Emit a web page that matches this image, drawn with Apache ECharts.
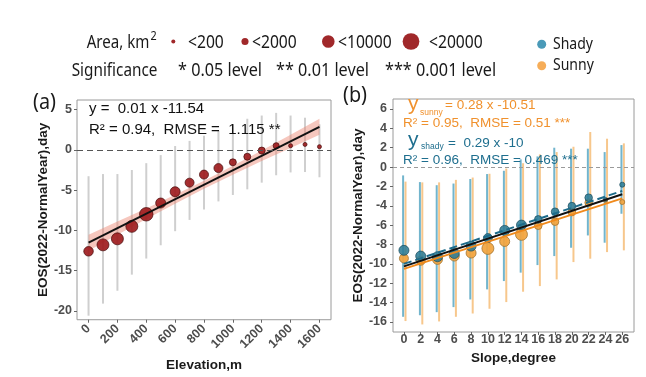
<!DOCTYPE html>
<html>
<head>
<meta charset="utf-8">
<script src="https://cdn.jsdelivr.net/npm/echarts@6/dist/echarts.min.js"></script>
<style>
html, body { margin: 0; padding: 0; background: #fff; }
#chart { width: 646px; height: 377px; }
</style>
</head>
<body>
<div id="chart"></div>
<script>
// (a) EOS anomaly by elevation bin
const elevation = [0, 100, 200, 300, 400, 500, 600, 700, 800, 900, 1000, 1100, 1200, 1300, 1400, 1500, 1600]
const eosElev = [-12.6, -11.8, -11.05, -9.5, -8.0, -6.6, -5.2, -4.07, -3.07, -2.26, -1.54, -0.85, -0.08, 0.52, 0.52, 0.68, 0.4]
const lowElev = [-20.6, -19.1, -17.5, -15.5, -13.5, -11.85, -10.1, -8.7, -7.4, -6.4, -5.6, -4.9, -4.07, -3.15, -2.8, -2.75, -3.4]
const highElev = [-3.27, -3.0, -3.0, -2.5, -1.65, -0.65, 0.48, 1.12, 1.77, 2.37, 3.18, 3.87, 4.27, 4.6, 4.27, 4.0, 3.18]
const areaElev = [4800, 8800, 8800, 8800, 11800, 5500, 5500, 4100, 4100, 4100, 1900, 1900, 1900, 1200, 200, 200, 200]
const fitElevX = [0, 1600]
const fitElevY = [-11.53, 2.86]
const bandElevX = [0, 200, 400, 600, 800, 1000, 1200, 1400, 1600]
const bandElevLow = [-12.53, -10.55, -8.59, -6.68, -4.83, -3.08, -1.39, 0.25, 1.87]
const bandElevHigh = [-10.53, -8.91, -7.27, -5.58, -3.83, -1.98, -0.07, 1.89, 3.87]
const elevTicks = [0, 200, 400, 600, 800, 1000, 1200, 1400, 1600]
const eosTicksA = [-20, -15, -10, -5, 0, 5]

// (b) EOS anomaly by slope, shady vs sunny
const slope = [0, 2, 4, 6, 8, 10, 12, 14, 16, 18, 20, 22, 24, 26]
const shadyEos = [-8.6, -9.19, -9.26, -8.92, -8.16, -7.33, -6.54, -5.99, -5.4, -4.61, -4.03, -3.16, -3.34, -1.82]
const sunnyEos = [-9.43, -9.67, -9.53, -9.19, -8.88, -8.4, -7.68, -6.95, -6.06, -5.64, -4.65, -3.68, -3.45, -3.61]
const shadyLow = [-15.46, -15.3, -14.98, -14.46, -13.67, -12.63, -11.77, -10.9, -10.12, -9.19, -8.33, -7.06, -7.81, -4.82]
const shadyHigh = [-0.86, -1.55, -1.87, -1.7, -1.23, -0.72, -0.38, 0.8, 1.1, 2.0, 1.9, 1.9, 1.55, 2.27]
const sunnyLow = [-15.9, -16.25, -15.94, -15.46, -15.12, -14.63, -13.94, -12.87, -12.29, -11.6, -9.81, -9.46, -8.78, -8.6]
const sunnyHigh = [-1.5, -1.58, -1.58, -1.32, -1.08, -0.69, -0.15, 0.4, 1.31, 1.55, 2.1, 3.62, 2.93, 2.45]
const shadyArea = [5500, 5500, 5500, 5500, 5500, 4100, 5500, 5500, 2500, 2500, 2500, 2500, 200, 600]
const sunnyArea = [4100, 4100, 5500, 5500, 5500, 8800, 5500, 8800, 2500, 2500, 2500, 2500, 200, 600]
const fitSlopeX = [0, 26]
const sunnyFit = [-10.51, -3.23]
const shadyFit = [-10.0, -2.46]
const allFit = [-10.25, -2.8]
const eosTicksB = [-16, -14, -12, -10, -8, -6, -4, -2, 0, 2, 4, 6]

const areaBreaks = [200, 2000, 10000, 20000]
const areaLabels = ['<200', '<2000', '<10000', '<20000']

const sans = 'Liberation Sans'
const legendFont = 'Noto Sans'
const orange = '#f0912d'
const teal = '#1e6e8e'

function sizeOf (area) {
  return 2.6 + 0.1 * Math.sqrt(area)
}

function pairs (xs, ys) {
  return xs.map((x, i) => [x, ys[i]])
}

function errorBars (color, dx) {
  return function (params, api) {
    const x = api.value(0)
    const a = api.coord([x, api.value(1)])
    const b = api.coord([x, api.value(2)])
    return {
      type: 'line',
      shape: { x1: a[0] + dx, y1: a[1], x2: b[0] + dx, y2: b[1] },
      style: { stroke: color, lineWidth: 2 }
    }
  }
}

function axisX (grid, min, max, ticks, name, gap, rotate, margin) {
  return {
    type: 'value',
    gridIndex: grid,
    min: min,
    max: max,
    name: name,
    nameLocation: 'middle',
    nameGap: gap,
    nameTextStyle: { fontFamily: sans, fontWeight: 'bold', fontSize: 13.5, color: '#1a1a1a' },
    axisLine: { show: false, onZero: false },
    axisTick: { show: true, length: 3, lineStyle: { color: '#666' }, customValues: ticks },
    axisLabel: {
      customValues: ticks,
      formatter: v => String(v),
      rotate: rotate,
      margin: margin,
      fontFamily: sans,
      fontWeight: 'bold',
      fontSize: 12.5,
      color: '#4d4d4d'
    },
    splitLine: { show: false }
  }
}

function axisY (grid, min, max, ticks, gap, margin) {
  return {
    type: 'value',
    gridIndex: grid,
    min: min,
    max: max,
    name: 'EOS(2022-NormalYear),day',
    nameLocation: 'middle',
    nameGap: gap,
    nameTextStyle: { fontFamily: sans, fontWeight: 'bold', fontSize: 13.5, color: '#1a1a1a' },
    axisLine: { show: false, onZero: false },
    axisTick: { show: true, length: 3, lineStyle: { color: '#666' }, customValues: ticks },
    axisLabel: { customValues: ticks, formatter: v => String(v), margin: margin, fontFamily: sans, fontWeight: 'bold', fontSize: 12.5, color: '#4d4d4d' },
    splitLine: { show: false }
  }
}

function label (text, x, y, size, color, opts) {
  const o = opts || {}
  return {
    type: 'text',
    x: x,
    y: y,
    scaleX: o.scaleX || 1,
    z: 100,
    style: {
      text: text,
      fontFamily: o.font || sans,
      fontSize: size,
      fontWeight: o.weight || 'normal',
      fill: color,
      align: 'left',
      verticalAlign: 'middle'
    }
  }
}

// header legend
const legendX = [173.3, 245, 328.3, 411]
const legendTextX = [188, 252, 338, 429]
const graphics = [
  label('Area, km', 86.7, 42.5, 18, '#1a1a1a', { font: legendFont, scaleX: 0.84 }),
  label('2', 150.5, 36.5, 12, '#1a1a1a', { font: legendFont, scaleX: 0.9 }),
  label('Significance', 71.7, 71, 18, '#1a1a1a', { font: legendFont, scaleX: 0.85 }),
  label('* 0.05 level', 178, 71, 18, '#1a1a1a', { font: legendFont, scaleX: 0.9 }),
  label('** 0.01 level', 276, 71, 18, '#1a1a1a', { font: legendFont, scaleX: 0.9 }),
  label('*** 0.001 level', 385, 71, 18, '#1a1a1a', { font: legendFont, scaleX: 0.9 }),
  { type: 'circle', shape: { cx: 541.7, cy: 44.3, r: 4.5 }, style: { fill: '#4a9ab8' } },
  { type: 'circle', shape: { cx: 541.7, cy: 65.7, r: 4.5 }, style: { fill: '#f6ad58' } },
  label('Shady', 553, 44.5, 16.5, '#1a1a1a', { font: legendFont, scaleX: 0.85 }),
  label('Sunny', 553, 65.5, 16.5, '#1a1a1a', { font: legendFont, scaleX: 0.85 }),
  label('(a)', 33, 103, 22, '#1a1a1a', { font: legendFont, scaleX: 0.9 }),
  label('(b)', 343, 96, 22, '#1a1a1a', { font: legendFont, scaleX: 0.9 }),
  // panel (a) equation
  label('y =  0.01 x -11.54', 89, 109.3, 15, '#111'),
  label('R\u00b2 = 0.94,  RMSE =  1.115 **', 89, 130, 15, '#111'),
  // panel (b) equations
  label('y', 408, 104.7, 21, orange),
  label('sunny', 420, 112.3, 8.5, orange),
  label('= 0.28 x -10.51', 445, 105.3, 13.5, orange),
  label('R\u00b2 = 0.95,  RMSE = 0.51 ***', 403, 123.3, 13.5, orange),
  label('y', 408, 140.2, 21, teal),
  label('shady', 421, 147, 8.5, teal),
  label('=  0.29 x -10', 448, 143.3, 13.5, teal),
  label('R\u00b2 = 0.96,  RMSE = 0.469 ***', 403, 160, 13.5, teal)
]
areaBreaks.forEach((a, i) => {
  graphics.push({ type: 'circle', shape: { cx: legendX[i], cy: 41.5, r: sizeOf(a) / 2 }, style: { fill: '#a0282a' } })
  graphics.push(label(areaLabels[i], legendTextX[i], 42.5, 18, '#1a1a1a', { font: legendFont, scaleX: 0.87 }))
})

const chart = echarts.init(document.getElementById('chart'))
chart.setOption({
  animation: false,
  backgroundColor: '#fff',
  grid: [
    { left: 77, top: 100, width: 254, height: 226, show: true, borderColor: '#9a9a9a', borderWidth: 1 },
    { left: 393, top: 99, width: 241, height: 233, show: true, borderColor: '#9a9a9a', borderWidth: 1 }
  ],
  xAxis: [
    axisX(0, -80, 1680, elevTicks, 'Elevation,m', 30, 45, 7),
    axisX(1, -1.3, 27.4, slope, 'Slope,degree', 13, 0, 1)
  ],
  yAxis: [
    axisY(0, -21.1, 6.2, eosTicksA, 21, 5),
    axisY(1, -17.03, 7.03, eosTicksB, 22, 6)
  ],
  graphic: graphics,
  series: [
    // ---- panel (a)
    {
      type: 'custom',
      xAxisIndex: 0,
      yAxisIndex: 0,
      silent: true,
      data: elevation.map((x, i) => [x, lowElev[i], highElev[i]]),
      encode: { x: 0, y: [1, 2] },
      renderItem: errorBars('#cfcfcf', 0),
      markLine: {
        silent: true,
        symbol: 'none',
        label: { show: false },
        lineStyle: { color: '#555', type: [6, 4], width: 1.2 },
        data: [{ yAxis: 0 }]
      }
    },
    {
      type: 'custom',
      xAxisIndex: 0,
      yAxisIndex: 0,
      silent: true,
      data: bandElevX.map((x, i) => [x, bandElevLow[i], bandElevHigh[i]]),
      encode: { x: 0, y: [1, 2] },
      renderItem: function (params, api) {
        if (params.dataIndex !== 0) return null
        const pts = bandElevX.map((x, i) => api.coord([x, bandElevHigh[i]]))
        for (let i = bandElevX.length - 1; i >= 0; i--) {
          pts.push(api.coord([bandElevX[i], bandElevLow[i]]))
        }
        return { type: 'polygon', shape: { points: pts }, style: { fill: 'rgba(236,130,110,0.45)' } }
      }
    },
    {
      type: 'line',
      xAxisIndex: 0,
      yAxisIndex: 0,
      data: pairs(fitElevX, fitElevY),
      symbol: 'none',
      lineStyle: { color: '#111', width: 2 }
    },
    {
      type: 'scatter',
      xAxisIndex: 0,
      yAxisIndex: 0,
      data: elevation.map((x, i) => [x, eosElev[i], areaElev[i]]),
      symbolSize: v => sizeOf(v[2]),
      itemStyle: { color: '#9e1c1e', borderColor: '#4a0c0c', borderWidth: 0.8, opacity: 0.92 }
    },
    // ---- panel (b)
    {
      type: 'custom',
      xAxisIndex: 1,
      yAxisIndex: 1,
      silent: true,
      data: slope.map((x, i) => [x, sunnyLow[i], sunnyHigh[i]]),
      encode: { x: 0, y: [1, 2] },
      renderItem: errorBars('#f7c78c', 1.6),
      markLine: {
        silent: true,
        symbol: 'none',
        label: { show: false },
        lineStyle: { color: '#9a9a9a', type: [4, 3], width: 1.2 },
        data: [{ yAxis: 0 }]
      }
    },
    {
      type: 'custom',
      xAxisIndex: 1,
      yAxisIndex: 1,
      silent: true,
      data: slope.map((x, i) => [x, shadyLow[i], shadyHigh[i]]),
      encode: { x: 0, y: [1, 2] },
      renderItem: errorBars('#72b5cd', -0.8)
    },
    {
      type: 'scatter',
      xAxisIndex: 1,
      yAxisIndex: 1,
      data: slope.map((x, i) => [x, sunnyEos[i], sunnyArea[i]]),
      symbolSize: v => sizeOf(v[2]),
      itemStyle: { color: '#f2a43e', borderColor: '#9c6e2c', borderWidth: 0.8, opacity: 0.92 }
    },
    {
      type: 'scatter',
      xAxisIndex: 1,
      yAxisIndex: 1,
      data: slope.map((x, i) => [x, shadyEos[i], shadyArea[i]]),
      symbolSize: v => sizeOf(v[2]),
      itemStyle: { color: '#2c7c96', borderColor: '#1b4a5a', borderWidth: 0.8, opacity: 0.88 }
    },
    {
      type: 'line',
      xAxisIndex: 1,
      yAxisIndex: 1,
      data: pairs(fitSlopeX, sunnyFit),
      symbol: 'none',
      lineStyle: { color: '#f08a1c', width: 2 }
    },
    {
      type: 'line',
      xAxisIndex: 1,
      yAxisIndex: 1,
      data: pairs(fitSlopeX, allFit),
      symbol: 'none',
      lineStyle: { color: '#111', width: 2 }
    },
    {
      type: 'line',
      xAxisIndex: 1,
      yAxisIndex: 1,
      data: pairs(fitSlopeX, shadyFit),
      symbol: 'none',
      lineStyle: { color: '#1d6b8a', width: 2, type: [8, 4] }
    }
  ]
})
</script>
</body>
</html>
